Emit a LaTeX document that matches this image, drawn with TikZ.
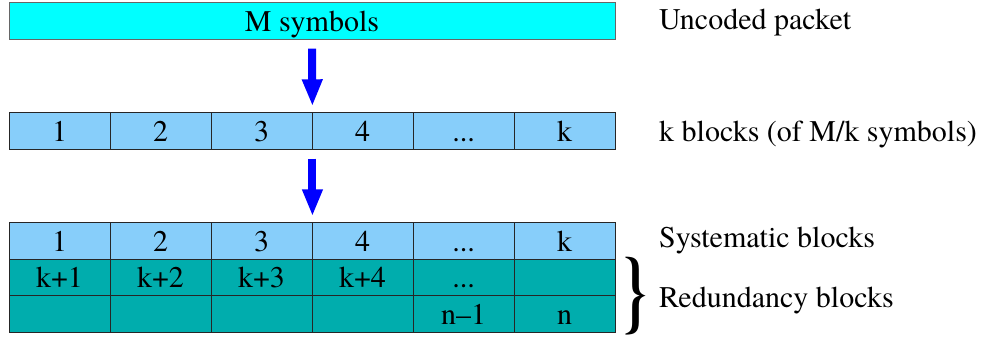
\documentclass[tikz,border=0pt]{standalone}
\usepackage{graphicx}
\usepackage{fontspec}
\IfFontExistsTF{texgyretermes-regular.otf}
    {\setmainfont{texgyretermes-regular.otf}[BoldFont=texgyretermes-bold.otf]}
    {\setmainfont{Liberation Serif}}
\usetikzlibrary{arrows.meta}

\definecolor{pktcyan}{RGB}{0,255,255}
\definecolor{sysblue}{RGB}{135,206,250}
\definecolor{redteal}{RGB}{0,173,173}

\begin{document}
\begin{tikzpicture}[x=1pt, y=-1pt,
        every node/.style={font=\rmfamily\fontsize{30}{36}\selectfont},
        blk/.style={draw=black!85, line width=0.9pt, minimum height=36.5pt,
            minimum width=101pt, inner sep=0pt, text height=20pt, text depth=0pt},
        pkt/.style={blk, fill=pktcyan, draw=black!60, minimum width=606pt},
        sysblk/.style={blk, fill=sysblue},
        redblk/.style={blk, fill=redteal},
        lbl/.style={anchor=base west, inner sep=0pt},
        flow/.style={blue, line width=8pt, -{Triangle[width=19pt, length=27pt]},
            shorten <=9pt, shorten >=6pt}
    ]
    \useasboundingbox (0,0) rectangle (989,340);

    % uncoded packet
    \node[pkt] (pkt) at (312,21) {M symbols};

    % k blocks
    \node[sysblk] (b1) at (59.5,131) {1};
    \node[sysblk] (b2) at (160.5,131) {2};
    \node[sysblk] (b3) at (261.5,131) {3};
    \node[sysblk] (b4) at (362.5,131) {4};
    \node[sysblk] (b5) at (463.5,131) {...};
    \node[sysblk] (b6) at (564.5,131) {k};

    % systematic row
    \node[sysblk] (s1) at (59.5,241) {1};
    \node[sysblk] (s2) at (160.5,241) {2};
    \node[sysblk] (s3) at (261.5,241) {3};
    \node[sysblk] (s4) at (362.5,241) {4};
    \node[sysblk] (s5) at (463.5,241) {...};
    \node[sysblk] (s6) at (564.5,241) {k};

    % redundancy rows
    \node[redblk] (r1) at (59.5,277.5) {k+1};
    \node[redblk] (r2) at (160.5,277.5) {k+2};
    \node[redblk] (r3) at (261.5,277.5) {k+3};
    \node[redblk] (r4) at (362.5,277.5) {k+4};
    \node[redblk] (r5) at (463.5,277.5) {...};
    \node[redblk] (r6) at (564.5,277.5) {};

    \node[redblk] (q1) at (59.5,314) {};
    \node[redblk] (q2) at (160.5,314) {};
    \node[redblk] (q3) at (261.5,314) {};
    \node[redblk] (q4) at (362.5,314) {};
    \node[redblk] (q5) at (463.5,314) {n\textendash1};
    \node[redblk] (q6) at (564.5,314) {n};

    % arrows between the stages
    \draw[flow] (pkt.south) -- (b3.north east);
    \draw[flow] (b3.south east) -- (s3.north east);

    % brace over the redundancy rows
    \node[inner sep=0pt] (brace) at (634.5,296) {\resizebox*{25pt}{78pt}{\bfseries\}}};

    % labels
    \node[lbl] (uncoded) at (659,29) {Uncoded packet};
    \node[lbl] (kblocks) at (659,141) {k blocks (of M/k symbols)};
    \node[lbl] (systematic) at (659,247) {Systematic blocks};
    \node[lbl] (redundancy) at (659,307) {Redundancy blocks};
\end{tikzpicture}
\end{document}
